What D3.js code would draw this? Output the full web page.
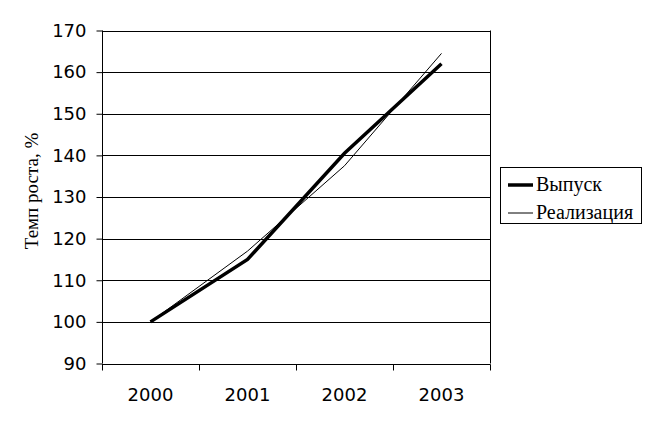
<!DOCTYPE html>
<html>
<head>
<meta charset="utf-8">
<script src="https://cdn.jsdelivr.net/npm/d3@7"></script>
<style>
  body { margin: 0; background: #fff; }
  svg { display: block; }
</style>
</head>
<body>
<svg id="chart" width="651" height="424"></svg>
<script>
var years = ["2000", "2001", "2002", "2003"];
var vypusk = [100, 115, 140.5, 162];
var realizaciya = [100, 117, 137.5, 164.5];
var yTicks = [90, 100, 110, 120, 130, 140, 150, 160, 170];

var seriesList = [
	{ name: "Выпуск", values: vypusk, width: 3.5 },
	{ name: "Реализация", values: realizaciya, width: 1 }
];

var svg = d3.select("#chart");
var plotL = 102, plotR = 490, plotT = 30.5, plotB = 363.5;

var x = d3.scaleBand().domain(years).range([plotL, plotR]);
var y = d3.scaleLinear().domain([90, 170]).range([plotB, plotT]);

var sans = "'DejaVu Sans', Verdana, sans-serif";
var serif = "'Liberation Serif', 'Times New Roman', serif";

// grid
svg.append("g")
	.selectAll("line")
	.data(yTicks.slice(1))
	.join("line")
	.attr("x1", plotL).attr("x2", plotR)
	.attr("y1", function(d) { return Math.round(y(d)) + 0.5; })
	.attr("y2", function(d) { return Math.round(y(d)) + 0.5; })
	.attr("stroke", "#000")
	.attr("stroke-width", 1);

// right border
svg.append("line")
	.attr("x1", plotR + 0.5).attr("x2", plotR + 0.5)
	.attr("y1", y(170)).attr("y2", plotB)
	.attr("stroke", "#000");

// y axis
var yAxis = svg.append("g")
	.attr("transform", "translate(" + (plotL + 0.5) + ",0)")
	.call(d3.axisLeft(y).tickValues(yTicks).tickSize(6).tickPadding(10));
yAxis.select(".domain").attr("d", "M0," + y(170) + "V" + plotB);
yAxis.selectAll("text").attr("font-family", sans).attr("font-size", 18).attr("fill", "#000");
yAxis.selectAll("line").attr("stroke", "#000");

// x axis
var xAxis = svg.append("g")
	.attr("transform", "translate(0," + (Math.round(plotB) + 0.5) + ")")
	.call(d3.axisBottom(x).tickSize(0).tickPadding(24));
xAxis.select(".domain").attr("d", "M" + plotL + ",0H" + (plotR + 0.5));
xAxis.selectAll("text").attr("font-family", sans).attr("font-size", 18).attr("fill", "#000");

var edges = years.map(function(d) { return x(d); }).concat([plotR]);
xAxis.selectAll(".edge")
	.data(edges)
	.join("line")
	.attr("class", "edge")
	.attr("x1", function(d) { return Math.round(d) + 0.5; })
	.attr("x2", function(d) { return Math.round(d) + 0.5; })
	.attr("y1", 0).attr("y2", 6)
	.attr("stroke", "#000");

// y label
svg.append("text")
	.attr("transform", "translate(38,191) rotate(-90)")
	.attr("text-anchor", "middle")
	.attr("font-family", serif)
	.attr("font-size", 19)
	.text("Темп роста, %");

// lines
var line = d3.line()
	.x(function(d, i) { return x(years[i]) + x.bandwidth() / 2; })
	.y(function(d) { return y(d); });

svg.append("g")
	.selectAll("path")
	.data(seriesList)
	.join("path")
	.attr("d", function(s) { return line(s.values); })
	.attr("fill", "none")
	.attr("stroke", "#000")
	.attr("stroke-width", function(s) { return s.width; });

// legend
var legend = svg.append("g");
legend.append("rect")
	.attr("x", 500.5).attr("y", 167.5)
	.attr("width", 141).attr("height", 56)
	.attr("fill", "#fff").attr("stroke", "#000");

var rows = legend.selectAll(".row")
	.data(seriesList)
	.join("g")
	.attr("class", "row")
	.attr("transform", function(d, i) { return "translate(0," + (185 + i * 28) + ")"; });
rows.append("line")
	.attr("x1", 508).attr("x2", 533)
	.attr("y1", 0).attr("y2", 0)
	.attr("stroke", "#000")
	.attr("stroke-width", function(d) { return d.width; });
rows.append("text")
	.attr("x", 536).attr("y", 6)
	.attr("font-family", serif)
	.attr("font-size", 20)
	.text(function(d) { return d.name; });
</script>
</body>
</html>
